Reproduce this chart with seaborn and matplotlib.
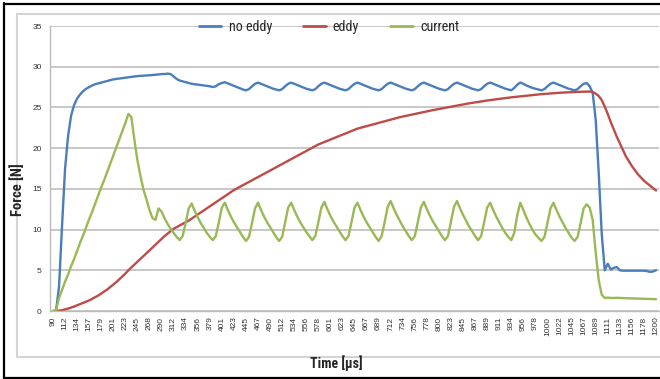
import numpy as np
import pandas as pd
import matplotlib
matplotlib.use("Agg")
import matplotlib.pyplot as plt
from matplotlib import font_manager
from matplotlib.lines import Line2D
import seaborn as sns

# ---------------- data ----------------
series_names = ["no eddy", "eddy", "current"]
series_colors = ["#4A7EBB", "#BE4B48", "#98B954"]

time_labels = ["90", "112", "134", "157", "179", "201", "223", "245", "268", "290",
               "312", "334", "356", "379", "401", "423", "445", "467", "490", "512",
               "534", "556", "578", "601", "623", "645", "667", "689", "712", "734",
               "756", "778", "800", "823", "845", "867", "889", "911", "934", "956",
               "978", "1000", "1022", "1045", "1067", "1089", "1111", "1133", "1156",
               "1178", "1200"]

no_eddy = [
    0.0, 0.0, 3.0, 10.5, 17.5, 21.5, 24.0, 25.3, 26.1, 26.6,
    27.0, 27.3, 27.5, 27.7, 27.85, 27.95, 28.05, 28.15, 28.25, 28.35,
    28.45, 28.5, 28.55, 28.6, 28.65, 28.7, 28.75, 28.8, 28.85, 28.88,
    28.9, 28.92, 28.95, 28.98, 29.0, 29.05, 29.1, 29.1, 29.15, 29.1,
    28.8, 28.5, 28.3, 28.2, 28.1, 28.0, 27.9, 27.85, 27.8, 27.75,
    27.7, 27.65, 27.6, 27.5, 27.6, 27.85, 28.0, 28.1, 27.95, 27.8,
    27.65, 27.5, 27.35, 27.2, 27.1, 27.25, 27.6, 27.9, 28.05, 27.9,
    27.75, 27.6, 27.45, 27.3, 27.2, 27.1, 27.25, 27.6, 27.9, 28.05,
    27.9, 27.75, 27.6, 27.45, 27.3, 27.2, 27.1, 27.25, 27.6, 27.9,
    28.05, 27.9, 27.75, 27.6, 27.45, 27.3, 27.2, 27.1, 27.25, 27.6,
    27.9, 28.05, 27.9, 27.75, 27.6, 27.45, 27.3, 27.2, 27.1, 27.25,
    27.6, 27.9, 28.05, 27.9, 27.75, 27.6, 27.45, 27.3, 27.2, 27.1,
    27.25, 27.6, 27.9, 28.05, 27.9, 27.75, 27.6, 27.45, 27.3, 27.2,
    27.1, 27.25, 27.6, 27.9, 28.05, 27.9, 27.75, 27.6, 27.45, 27.3,
    27.2, 27.1, 27.25, 27.6, 27.9, 28.05, 27.9, 27.75, 27.6, 27.45,
    27.3, 27.2, 27.1, 27.4, 27.8, 28.05, 27.9, 27.7, 27.55, 27.4,
    27.3, 27.2, 27.1, 27.25, 27.6, 27.9, 28.05, 27.9, 27.75, 27.6,
    27.45, 27.3, 27.2, 27.1, 27.25, 27.6, 27.9, 28.0, 27.6, 26.8,
    23.5, 17.0, 9.5, 5.0, 5.8, 5.1, 5.3, 5.4, 5.0, 4.95,
    4.95, 4.95, 4.95, 4.95, 4.95, 4.95, 4.95, 4.9, 4.8, 4.85,
    5.0]

eddy = [
    0.0, 0.0, 0.05, 0.1, 0.2, 0.3, 0.42, 0.55, 0.7, 0.85,
    1.0, 1.15, 1.3, 1.5, 1.7, 1.9, 2.15, 2.4, 2.65, 2.95,
    3.25, 3.55, 3.9, 4.25, 4.6, 5.0, 5.35, 5.7, 6.05, 6.4,
    6.75, 7.1, 7.45, 7.8, 8.15, 8.5, 8.85, 9.2, 9.5, 9.8,
    10.1, 10.3, 10.5, 10.7, 10.9, 11.1, 11.35, 11.6, 11.85, 12.1,
    12.35, 12.6, 12.85, 13.1, 13.35, 13.6, 13.85, 14.1, 14.35, 14.6,
    14.85, 15.05, 15.25, 15.45, 15.65, 15.85, 16.05, 16.25, 16.45, 16.65,
    16.85, 17.05, 17.25, 17.45, 17.65, 17.85, 18.05, 18.25, 18.45, 18.65,
    18.85, 19.05, 19.25, 19.45, 19.65, 19.85, 20.05, 20.25, 20.45, 20.6,
    20.75, 20.9, 21.05, 21.2, 21.35, 21.5, 21.65, 21.8, 21.95, 22.1,
    22.25, 22.4, 22.5, 22.6, 22.7, 22.8, 22.9, 23.0, 23.1, 23.2,
    23.3, 23.4, 23.5, 23.6, 23.7, 23.8, 23.88, 23.96, 24.04, 24.12,
    24.2, 24.28, 24.36, 24.44, 24.52, 24.6, 24.67, 24.74, 24.81, 24.88,
    24.95, 25.02, 25.09, 25.16, 25.23, 25.3, 25.37, 25.44, 25.5, 25.56,
    25.62, 25.68, 25.74, 25.8, 25.85, 25.9, 25.95, 26.0, 26.05, 26.1,
    26.15, 26.2, 26.24, 26.28, 26.32, 26.36, 26.4, 26.44, 26.48, 26.52,
    26.56, 26.6, 26.63, 26.66, 26.69, 26.72, 26.75, 26.78, 26.8, 26.82,
    26.84, 26.86, 26.88, 26.9, 26.91, 26.92, 26.93, 26.94, 26.95, 26.9,
    26.7, 26.4, 25.9, 25.1, 24.2, 23.2, 22.3, 21.4, 20.6, 19.8,
    19.0, 18.4, 17.8, 17.3, 16.8, 16.4, 16.0, 15.7, 15.4, 15.1,
    14.8]

current = [
    0.0, 0.1, 1.6, 2.6, 3.6, 4.5, 5.5, 6.4, 7.4, 8.4,
    9.3, 10.3, 11.3, 12.2, 13.2, 14.2, 15.2, 16.1, 17.1, 18.1,
    19.1, 20.1, 21.1, 22.1, 23.1, 24.2, 23.8, 21.0, 18.5, 16.6,
    14.9, 13.7, 12.4, 11.4, 11.2, 12.6, 12.2, 11.4, 10.7, 10.1,
    9.6, 9.1, 8.7, 9.2, 10.8, 12.6, 13.2, 12.3, 11.5, 10.8,
    10.2, 9.6, 9.1, 8.7, 9.2, 10.9, 12.7, 13.3, 12.4, 11.6,
    10.9, 10.3, 9.7, 9.1, 8.6, 9.1, 10.8, 12.6, 13.3, 12.4,
    11.6, 10.9, 10.3, 9.7, 9.1, 8.6, 9.1, 10.9, 12.7, 13.3,
    12.4, 11.6, 10.9, 10.3, 9.7, 9.2, 8.7, 9.2, 10.9, 12.7,
    13.4, 12.5, 11.7, 11.0, 10.4, 9.8, 9.2, 8.7, 9.2, 10.9,
    12.7, 13.3, 12.4, 11.6, 10.9, 10.3, 9.7, 9.1, 8.6, 9.2,
    10.9, 12.8, 13.5, 12.6, 11.8, 11.1, 10.4, 9.8, 9.2, 8.7,
    9.2, 10.9, 12.7, 13.4, 12.5, 11.7, 11.0, 10.4, 9.8, 9.2,
    8.7, 9.2, 11.0, 12.8, 13.5, 12.6, 11.8, 11.1, 10.4, 9.8,
    9.2, 8.7, 9.2, 10.9, 12.7, 13.3, 12.4, 11.6, 10.9, 10.2,
    9.6, 9.1, 8.7, 9.6, 11.8, 13.3, 12.4, 11.5, 10.7, 10.0,
    9.4, 9.0, 8.6, 9.1, 10.8, 12.6, 13.3, 12.4, 11.6, 10.9,
    10.2, 9.6, 9.0, 8.6, 9.1, 10.8, 12.6, 13.1, 12.7, 11.2,
    7.2, 3.8, 2.0, 1.6, 1.65, 1.6, 1.6, 1.62, 1.6, 1.58,
    1.57, 1.56, 1.56, 1.55, 1.54, 1.53, 1.52, 1.5, 1.48, 1.46,
    1.45]

label_step = 4

# ---------------- style ----------------
sns.set_style("white")
ttf = font_manager.fontManager.ttflist
names = {f.name for f in ttf}
narrow = None
for cand in ["Liberation Sans Narrow", "Roboto Condensed", "Open Sans Condensed",
             "DejaVu Sans Condensed", "Noto Sans Condensed"]:
    if cand in names:
        narrow = cand
        break
cond_stretch = "normal"
if narrow is None:
    for fam in ["Noto Sans", "Open Sans", "DejaVu Sans", "Roboto"]:
        if any(f.name == fam and str(f.stretch) in ("condensed", "semi-condensed", "75", "87")
               for f in ttf):
            narrow = fam
            cond_stretch = "condensed"
            break
if narrow is None:
    narrow = "Liberation Sans"
base = "Liberation Sans" if "Liberation Sans" in names else "DejaVu Sans"
plt.rcParams["font.family"] = [base, "DejaVu Sans"]

n = len(no_eddy)
idx = np.arange(n)
df = pd.concat([
    pd.DataFrame({"idx": idx, "force": no_eddy, "series": series_names[0]}),
    pd.DataFrame({"idx": idx, "force": eddy, "series": series_names[1]}),
    pd.DataFrame({"idx": idx, "force": current, "series": series_names[2]}),
], ignore_index=True)

W, H = 660, 379
fig = plt.figure(figsize=(W / 100, H / 100), dpi=100)
fig.patch.set_facecolor("white")

ax_left, ax_right, ax_bottom, ax_top = 50, 659, 311, 26
ax = fig.add_axes([ax_left / W, 1 - ax_bottom / H,
                   (ax_right - ax_left) / W, (ax_bottom - ax_top) / H])

sns.lineplot(data=df, x="idx", y="force", hue="series",
             palette=dict(zip(series_names, series_colors)),
             hue_order=series_names, linewidth=1.7, ax=ax, legend=True,
             estimator=None, sort=False)

ax.set_xlim(-1, 201)
ax.set_ylim(0, 35)
ax.set_yticks(np.arange(0, 36, 5))
ax.yaxis.grid(True, color="#c4c4c4", linewidth=1.3)
ax.set_axisbelow(True)
for s in ["top", "right"]:
    ax.spines[s].set_visible(False)
for s in ["left", "bottom"]:
    ax.spines[s].set_color("#bcbcbc")
    ax.spines[s].set_linewidth(1.0)

ax.set_xticks(idx[::label_step])
ax.set_xticklabels(time_labels, rotation=90, fontsize=6, color="#333333")
ax.set_xticks(np.arange(-0.5, 201, 1), minor=True)
ax.tick_params(axis="x", which="major", length=0, pad=4)
ax.tick_params(axis="x", which="minor", length=3, color="#bcbcbc", width=0.7)
ax.tick_params(axis="y", which="major", length=3, color="#bcbcbc", width=0.8,
               labelsize=6, labelcolor="#333333", pad=3)
ax.set_xlabel("")
ax.set_ylabel("")

handles = [Line2D([], [], color=c, linewidth=2.0) for c in series_colors]
ax.get_legend().remove()
fig.legend(handles, series_names, loc="center", bbox_to_anchor=(329 / W, 1 - 27 / H),
           ncol=3, frameon=False, handlelength=1.6, handletextpad=0.5,
           columnspacing=2.2,
           prop=font_manager.FontProperties(family=[narrow, "DejaVu Sans"], size=10.2,
                                            stretch=cond_stretch))

fig.text(336 / W, 1 - 363 / H, "Time [µs]", ha="center", va="center",
         fontsize=10, fontweight="bold", family=[narrow, "DejaVu Sans"],
         fontstretch=cond_stretch)
fig.text(18 / W, 1 - 190 / H, "Force [N]", ha="center", va="center", rotation=90,
         fontsize=10.5, fontweight="bold", family=[narrow, "DejaVu Sans"],
         fontstretch=cond_stretch)

# chart area border (light gray) and page frame (black)
gray = "#d4d4d4"
fig.add_artist(Line2D([17 / W, 17 / W], [1 - 14 / H, 1 - 357 / H], color=gray, lw=1.5,
                      transform=fig.transFigure))
fig.add_artist(Line2D([17 / W, 1], [1 - 14 / H, 1 - 14 / H], color=gray, lw=1.5,
                      transform=fig.transFigure))
fig.add_artist(Line2D([17 / W, 1], [1 - 357 / H, 1 - 357 / H], color=gray, lw=1.5,
                      transform=fig.transFigure))
fig.add_artist(Line2D([4 / W, 4 / W], [1 - 3 / H, 1 - 378 / H], color="black", lw=1.6,
                      transform=fig.transFigure))
fig.add_artist(Line2D([4 / W, 1], [1 - 3.5 / H, 1 - 3.5 / H], color="black", lw=1.6,
                      transform=fig.transFigure))
fig.add_artist(Line2D([4 / W, 1], [1 - 377.5 / H, 1 - 377.5 / H], color="black", lw=1.6,
                      transform=fig.transFigure))

fig.savefig("out.png", dpi=100, facecolor="white")
